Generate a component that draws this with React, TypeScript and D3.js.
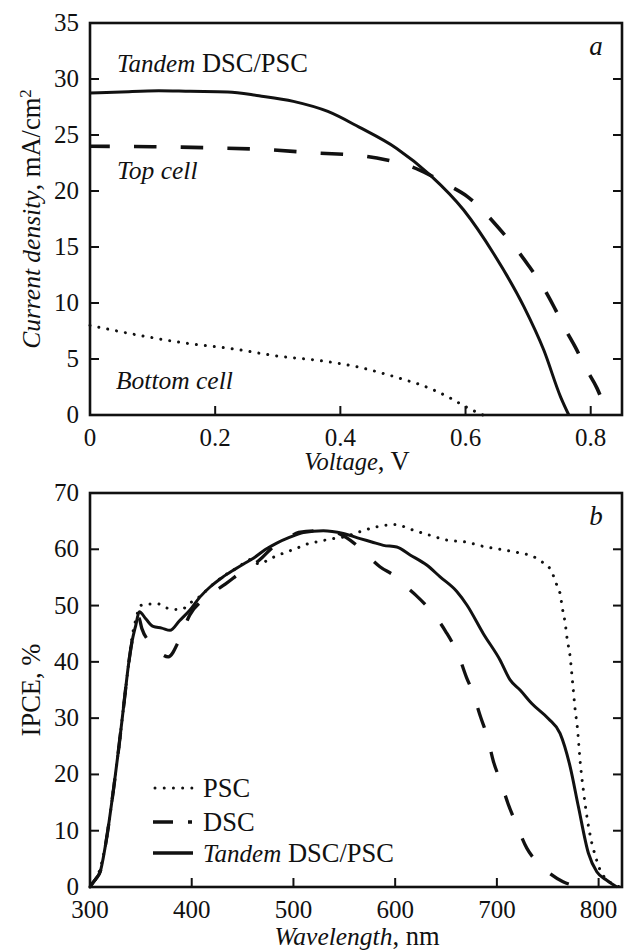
import React from "react";
import * as d3 from "d3";

// ---------- Panel a: J–V curves ----------
const tandemV = [0, 0.05, 0.11, 0.16, 0.22, 0.27, 0.325, 0.38, 0.43, 0.49, 0.544, 0.597, 0.645, 0.693, 0.725, 0.752, 0.765];
const tandemJ = [28.75, 28.85, 28.95, 28.9, 28.85, 28.5, 28.0, 27.1, 25.7, 23.8, 21.4, 18.3, 14.4, 9.7, 5.8, 1.6, 0];

const topV = [0, 0.1, 0.2, 0.28, 0.36, 0.44, 0.472, 0.512, 0.544, 0.573, 0.603, 0.632, 0.653, 0.68, 0.7, 0.723, 0.74, 0.76, 0.775, 0.794, 0.81, 0.827];
const topJ = [24.0, 23.95, 23.85, 23.7, 23.4, 23.1, 22.8, 22.2, 21.4, 20.5, 19.5, 18.0, 16.7, 14.9, 13.4, 11.5, 9.8, 7.6, 6.1, 4.0, 2.4, 0];

const bottomV = [0, 0.085, 0.155, 0.229, 0.299, 0.368, 0.427, 0.469, 0.509, 0.523, 0.576, 0.6, 0.613, 0.628];
const bottomJ = [8.0, 7.05, 6.4, 5.9, 5.27, 4.85, 4.3, 3.7, 3.04, 2.8, 1.5, 0.74, 0.38, 0];

const voltTicks = [0, 0.2, 0.4, 0.6, 0.8];
const voltTickLabels = ["0", "0.2", "0.4", "0.6", "0.8"];
const currTicks = [0, 5, 10, 15, 20, 25, 30, 35];

// ---------- Panel b: IPCE ----------
const pscL = [300, 304, 309, 316, 323, 328, 333, 338, 341, 345, 349, 351, 359, 367, 375, 384, 391, 398, 407, 418, 431, 441, 451, 458, 466, 478, 490, 502, 513, 525, 539, 550, 565, 582, 600, 616, 634, 652, 669, 687, 703, 721, 736, 744, 752, 756, 759, 762, 765, 767, 769, 772, 774.5, 777, 779, 782, 785, 788.5, 792, 797, 801.5, 808, 814.5, 821];
const pscV = [0, 1, 2.7, 8.3, 17.2, 24.3, 32, 39.7, 44, 47.5, 49.8, 50.1, 50.3, 50.3, 49.6, 49.3, 49.4, 50.4, 51.5, 53.3, 55.2, 56.3, 57.5, 58.2, 57.4, 58.4, 59.3, 60.1, 60.9, 61.4, 61.9, 62.2, 63.1, 64.0, 64.4, 63.5, 62.5, 61.6, 61.3, 60.5, 60.0, 59.4, 58.7, 57.8, 56.6, 55.1, 53.6, 52.2, 48.9, 47.1, 44.2, 40.9, 36.2, 31.4, 28.5, 22, 17.2, 12.5, 8.9, 5.4, 3.0, 1.3, 0.5, 0];

const dscL = [300, 303, 306, 310, 316, 323, 328, 333, 338, 341, 345, 348, 351, 362, 377, 388, 398, 411, 422, 433, 447.5, 466, 482, 495, 505, 525, 540, 549, 556, 565.5, 575, 585, 600, 610, 620, 634, 642, 650, 659, 664, 670, 676, 684, 690.6, 696.6, 703.8, 711.4, 719.5, 729.4, 740.8, 752, 765, 785];
const dscV = [0, 0.8, 1.5, 2.7, 8.3, 17.2, 24.3, 32, 39.7, 43.3, 46.5, 47.8, 45.9, 43.0, 40.9, 44.0, 48.3, 51.0, 52.5, 53.8, 55.8, 58.0, 60.7, 62.0, 63.0, 63.3, 63.1, 62.4, 61.6, 60.2, 58.5, 56.9, 55.2, 53.5, 51.9, 49.3, 47.5, 45.3, 42.4, 40.3, 37.3, 34.7, 30.2, 26.7, 22.3, 18.7, 14.6, 11.0, 6.9, 4.2, 2.4, 0.94, 0];

const tanL = [300, 303, 306, 310, 316, 323, 328, 333, 338, 341, 345, 348.5, 355, 362, 370.5, 378.7, 388, 398.3, 408, 418, 430, 441, 451, 460.6, 472, 483.6, 496, 509.7, 529.4, 549, 565.5, 577, 588.4, 601.6, 614.7, 631, 644.2, 660.6, 670.5, 686.7, 703.2, 713, 722.8, 734.3, 750.7, 762.1, 772, 780.1, 790, 798.2, 808, 818];
const tanV = [0, 0.8, 1.5, 2.7, 8.3, 17.2, 24.3, 32, 39.7, 43.3, 46.5, 48.9, 47.6, 46.3, 46.0, 45.6, 47.3, 49.2, 51.5, 53.3, 55, 56.3, 57.4, 58.4, 59.9, 61.1, 62.1, 63.0, 63.3, 62.8, 61.9, 61.3, 60.7, 60.4, 59.0, 57.2, 55.1, 52.5, 50.1, 45.0, 40.3, 36.8, 35.0, 32.6, 29.9, 27.3, 21.4, 14.3, 6.0, 2.7, 1.2, 0];

const waveTicks = [300, 400, 500, 600, 700, 800];
const ipceTicks = [0, 10, 20, 30, 40, 50, 60, 70];

const FONT = "'Liberation Serif', 'Times New Roman', serif";
const TICK_FS = 25;
const UP_FS = 26.5; // upright text
const IT_FS = 25; // italic text

const L = 90, R = 622;

function zip(xs: number[], ys: number[]): [number, number][] {
  return xs.map((x, i) => [x, ys[i]] as [number, number]);
}

type FrameProps = {
  x: d3.ScaleLinear<number, number>;
  y: d3.ScaleLinear<number, number>;
  xTicks: number[];
  xLabels: string[];
  yTicks: number[];
};

function Frame({ x, y, xTicks, xLabels, yTicks }: FrameProps) {
  const [y0, y1] = y.range();
  const top = Math.min(y0, y1), bottom = Math.max(y0, y1);
  return (
    <g>
      <rect x={L} y={top} width={R - L} height={bottom - top} fill="none" stroke="#111" strokeWidth={2.6} />
      {yTicks.map((t) => (
        <g key={"y" + t}>
          <line x1={L} x2={L + 9} y1={y(t)} y2={y(t)} stroke="#111" strokeWidth={2} />
          <line x1={R - 9} x2={R} y1={y(t)} y2={y(t)} stroke="#111" strokeWidth={2} />
          <text x={79} y={y(t) + 8} textAnchor="end" fontSize={TICK_FS} fontFamily={FONT} fill="#111">{t}</text>
        </g>
      ))}
      {xTicks.map((t, i) => (
        <g key={"x" + t}>
          <line x1={x(t)} x2={x(t)} y1={bottom} y2={bottom - 9} stroke="#111" strokeWidth={2} />
          <text x={x(t)} y={bottom + 31} textAnchor="middle" fontSize={TICK_FS} fontFamily={FONT} fill="#111">{xLabels[i]}</text>
        </g>
      ))}
    </g>
  );
}

export default function App() {
  // panel a
  const xa = d3.scaleLinear().domain([0, 0.85]).range([L, R]);
  const ya = d3.scaleLinear().domain([0, 35]).range([415, 23]);
  const lineA = d3.line<[number, number]>().x((d) => xa(d[0])).y((d) => ya(d[1])).curve(d3.curveMonotoneX);

  // panel b
  const xb = d3.scaleLinear().domain([300, 823]).range([L, R]);
  const yb = d3.scaleLinear().domain([0, 70]).range([887, 493]);
  const lineB = d3.line<[number, number]>().x((d) => xb(d[0])).y((d) => yb(d[1])).curve(d3.curveMonotoneX);

  return (
    <svg width={624} height={952} style={{ position: "absolute", left: 0, top: 0, background: "#fff" }} fontFamily={FONT}>
      <rect width={624} height={952} fill="#fff" />
      {/* ---------- Panel a ---------- */}
      <g>
        <path d={lineA(zip(bottomV, bottomJ)) || ""} fill="none" stroke="#111" strokeWidth={3} strokeDasharray="0.01 9" strokeLinecap="round" />
        <path d={lineA(zip(topV, topJ)) || ""} fill="none" stroke="#111" strokeWidth={3.6} strokeDasharray="22.5 24.2" strokeDashoffset={2.7} />
        <path d={lineA(zip(tandemV, tandemJ)) || ""} fill="none" stroke="#111" strokeWidth={3} />
        <Frame x={xa} y={ya} xTicks={voltTicks} xLabels={voltTickLabels} yTicks={currTicks} />
        <text x={117} y={72} fontSize={UP_FS} fill="#111"><tspan fontStyle="italic" fontSize={IT_FS}>Tandem</tspan>{" DSC/PSC"}</text>
        <text x={117} y={179} fontSize={IT_FS + 0.5} fill="#111" fontStyle="italic">Top cell</text>
        <text x={116} y={389} fontSize={IT_FS + 0.5} fill="#111" fontStyle="italic">Bottom cell</text>
        <text x={596} y={55} fontSize={IT_FS + 2} fill="#111" fontStyle="italic" textAnchor="middle">a</text>
        <text x={357} y={470} fontSize={UP_FS} fill="#111" textAnchor="middle"><tspan fontStyle="italic" fontSize={IT_FS - 0.5}>Voltage</tspan>{", V"}</text>
        <text transform="translate(40,219) rotate(-90)" fontSize={UP_FS} fill="#111" textAnchor="middle">
          <tspan fontStyle="italic" fontSize={IT_FS + 0.5}>Current density</tspan>{", mA/cm"}<tspan dy={-9} fontSize={17}>2</tspan>
        </text>
      </g>
      {/* ---------- Panel b ---------- */}
      <g>
        <path d={lineB(zip(pscL, pscV)) || ""} fill="none" stroke="#111" strokeWidth={3} strokeDasharray="0.01 9" strokeLinecap="round" />
        <path d={lineB(zip(dscL, dscV)) || ""} fill="none" stroke="#111" strokeWidth={3.3} strokeDasharray="21 25" />
        <path d={lineB(zip(tanL, tanV)) || ""} fill="none" stroke="#111" strokeWidth={3} />
        <Frame x={xb} y={yb} xTicks={waveTicks} xLabels={waveTicks.map(String)} yTicks={ipceTicks} />
        <text x={596} y={525} fontSize={IT_FS + 2} fill="#111" fontStyle="italic" textAnchor="middle">b</text>
        {/* legend */}
        <line x1={155} x2={193} y1={788} y2={788} stroke="#111" strokeWidth={3} strokeDasharray="0.01 9.2" strokeLinecap="round" />
        <text x={203} y={797} fontSize={UP_FS} fill="#111">PSC</text>
        <line x1={153} x2={192} y1={822} y2={822} stroke="#111" strokeWidth={3.3} strokeDasharray="20 15" />
        <text x={203} y={831} fontSize={UP_FS} fill="#111">DSC</text>
        <line x1={153} x2={193} y1={853} y2={853} stroke="#111" strokeWidth={3.6} />
        <text x={203} y={862} fontSize={UP_FS} fill="#111"><tspan fontStyle="italic" fontSize={IT_FS}>Tandem</tspan>{" DSC/PSC"}</text>
        <text x={357} y={945} fontSize={UP_FS} fill="#111" textAnchor="middle"><tspan fontStyle="italic" fontSize={IT_FS + 0.5}>Wavelength</tspan>{", nm"}</text>
        <text transform="translate(40,690) rotate(-90)" fontSize={UP_FS} fill="#111" textAnchor="middle">IPCE, %</text>
      </g>
    </svg>
  );
}
